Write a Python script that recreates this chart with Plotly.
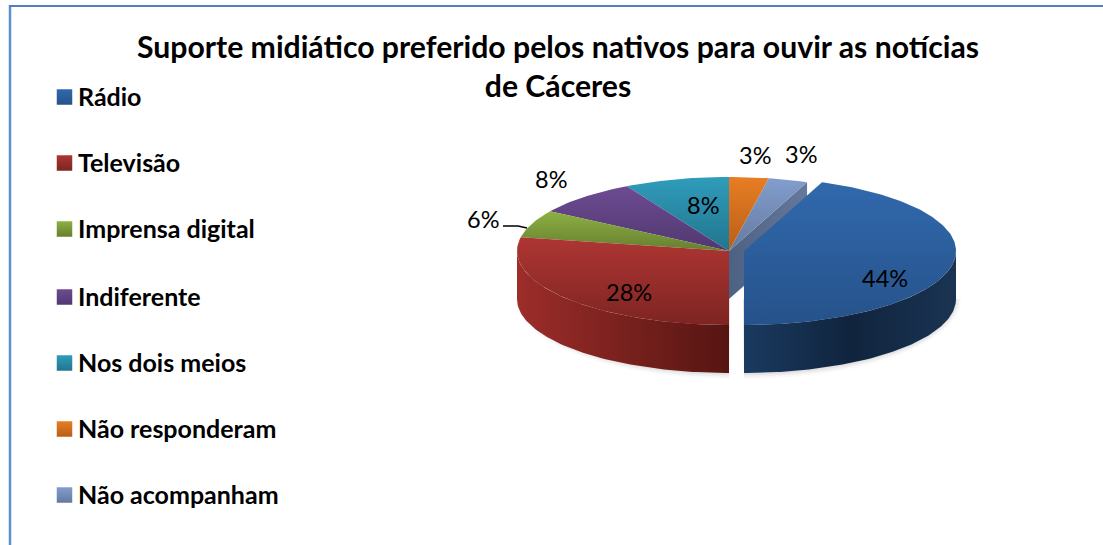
import numpy as np
import plotly.graph_objects as go

categories = ["Rádio", "Televisão", "Imprensa digital", "Indiferente",
              "Nos dois meios", "Não responderam", "Não acompanham"]
values = [44, 28, 6, 8, 8, 3, 3]
title_text = "Suporte midiático preferido pelos nativos para ouvir as notícias<br>de Cáceres"

# --- styling / layout (not data) ---
top_colors = [("#3169ad", "#26528a"), ("#ae3633", "#7e2422"), ("#8db043", "#667f30"),
              ("#6d4b92", "#513870"), ("#2f9cbb", "#22758e"), ("#e87d24", "#b85f18"),
              ("#829ecd", "#64799f")]
W, H = 1103, 545
CX, CY, A, B, DEPTH = 729, 251, 212, 74, 48
EXPLODE = (15, 0)
START_DEG = 21.6
label_xy = [(885, 278), (629, 292), (483, 219), (551, 179), (703, 205), (755, 155), (801, 154)]
legend_y = [97, 163, 229, 297, 363, 429, 495]
LEG_X, LEG_TEXT_X = 64.5, 76
FONT = "Lato"

fracs = np.array(values) / sum(values)
edges = START_DEG + 360 * np.concatenate([[0], np.cumsum(fracs)])


def ell(cx, cy, deg):
    t = np.radians(deg)
    return cx + A * np.sin(t), cy - B * np.cos(t)


def arc(a0, a1):
    return np.linspace(a0, a1, max(int(abs(a1 - a0)) + 2, 3))


fig = go.Figure()


def poly(xs, ys, stops, kind="vertical"):
    # y axis runs downwards, so a vertical gradient is listed bottom colour first
    fig.add_trace(go.Scatter(
        x=list(xs), y=list(ys), mode="lines", fill="toself",
        line=dict(width=0, color=stops[0][1]), showlegend=False, hoverinfo="skip",
        fillgradient=dict(type=kind, colorscale=stops),
    ))


# soft shadow under the pie: one piece on each side of the gap
for grow, alpha in [(6, .03), (4, .05), (2, .07)]:
    for a0, a1, cx0 in [(180, 270, CX + 1), (90, 180, CX + EXPLODE[0] - 1)]:
        ang = arc(a0, a1)
        x = cx0 + (A + grow) * np.sin(np.radians(ang)) + (4 if a0 == 180 else 0)
        y = CY + DEPTH + (B + grow) * -np.cos(np.radians(ang))
        x = np.clip(x, None, CX) if a0 == 180 else np.clip(x, CX + EXPLODE[0], None)
        fig.add_trace(go.Scatter(
            x=list(x) + [cx0], y=list(y) + [CY + DEPTH], mode="lines", fill="toself",
            line=dict(width=0), fillcolor=f"rgba(60,60,60,{alpha})",
            showlegend=False, hoverinfo="skip"))

# cut face of the slice that sits next to the pulled-out one
px, py = ell(CX, CY, edges[0])
poly([CX, px, px, CX, CX], [CY, py, py + DEPTH, CY + DEPTH, CY],
     [[0, "#4d6183"], [1, "#66799c"]], "horizontal")

# outer wall of the second slice (front-left)
ang = arc(edges[1], min(edges[2], 270))
ex, ey = ell(CX, CY, ang)
poly(list(ex) + list(ex[::-1]), list(ey) + list(ey[::-1] + DEPTH),
     [[0, "#9c2d2a"], [1, "#561512"]], "horizontal")

# outer wall of the first slice
ang = arc(90, edges[1])
ex, ey = ell(CX + EXPLODE[0], CY + EXPLODE[1], ang)
poly(list(ex) + list(ex[::-1]), list(ey) + list(ey[::-1] + DEPTH),
     [[0, "#1a3a60"], [0.5, "#10243e"], [1, "#1a3452"]], "horizontal")

# top faces, last slices first so the pulled-out slice stays on top
for i in range(len(values) - 1, -1, -1):
    ox, oy = EXPLODE if i == 0 else (0, 0)
    ang = arc(edges[i], edges[i + 1])
    ex, ey = ell(CX + ox, CY + oy, ang)
    xs = [CX + ox] + list(ex) + [CX + ox]
    ys = [CY + oy] + list(ey) + [CY + oy]
    poly(xs, ys, [[0, top_colors[i][1]], [1, top_colors[i][0]]])

# leader line for the small slice
fig.add_trace(go.Scatter(x=[503, 518, 527], y=[226, 226, 228], mode="lines",
                         line=dict(color="black", width=1.3), showlegend=False, hoverinfo="skip"))

# legend swatches
for i, name in enumerate(categories):
    fig.add_trace(go.Scatter(
        x=[LEG_X], y=[legend_y[i]], mode="markers", name=name, showlegend=False, hoverinfo="skip",
        marker=dict(symbol="square", size=15.5, color=top_colors[i][0], line=dict(width=0),
                    gradient=dict(type="vertical", color=top_colors[i][1])),
    ))

annotations = [
    dict(x=xy[0], y=xy[1], xref="x", yref="y", text=f"{v}%", showarrow=False,
         font=dict(family=FONT, size=23.5, color="black"))
    for xy, v in zip(label_xy, values)
] + [
    dict(x=LEG_TEXT_X, y=yy - 1, xref="x", yref="y", text=f"<b>{name}</b>", showarrow=False,
         xanchor="left", yanchor="middle", font=dict(family=FONT, size=25, color="black"))
    for name, yy in zip(categories, legend_y)
]

fig.update_layout(
    width=W, height=H, autosize=False,
    margin=dict(l=0, r=0, t=0, b=0),
    paper_bgcolor="white", plot_bgcolor="white", showlegend=False,
    xaxis=dict(range=[0, W], visible=False, fixedrange=True),
    yaxis=dict(range=[H, 0], visible=False, fixedrange=True),
    title=dict(text=f"<b>{title_text}</b>", x=558 / W, xanchor="center", y=1 - 58 / H, yanchor="middle",
               font=dict(family=FONT, size=30.2, color="black")),
    annotations=annotations,
    shapes=[
        dict(type="line", xref="paper", yref="paper", x0=10 / W, x1=10 / W, y0=0, y1=1 - 5 / H,
             line=dict(color="#5b8fd0", width=2.5)),
        dict(type="line", xref="paper", yref="paper", x0=9 / W, x1=1, y0=1 - 6 / H, y1=1 - 6 / H,
             line=dict(color="#4f81bd", width=2)),
    ],
    hovermode=False,
)
fig.write_html("out.html", config={"displayModeBar": False},
               post_script="document.body.style.margin='0';document.documentElement.style.overflow='hidden';")
